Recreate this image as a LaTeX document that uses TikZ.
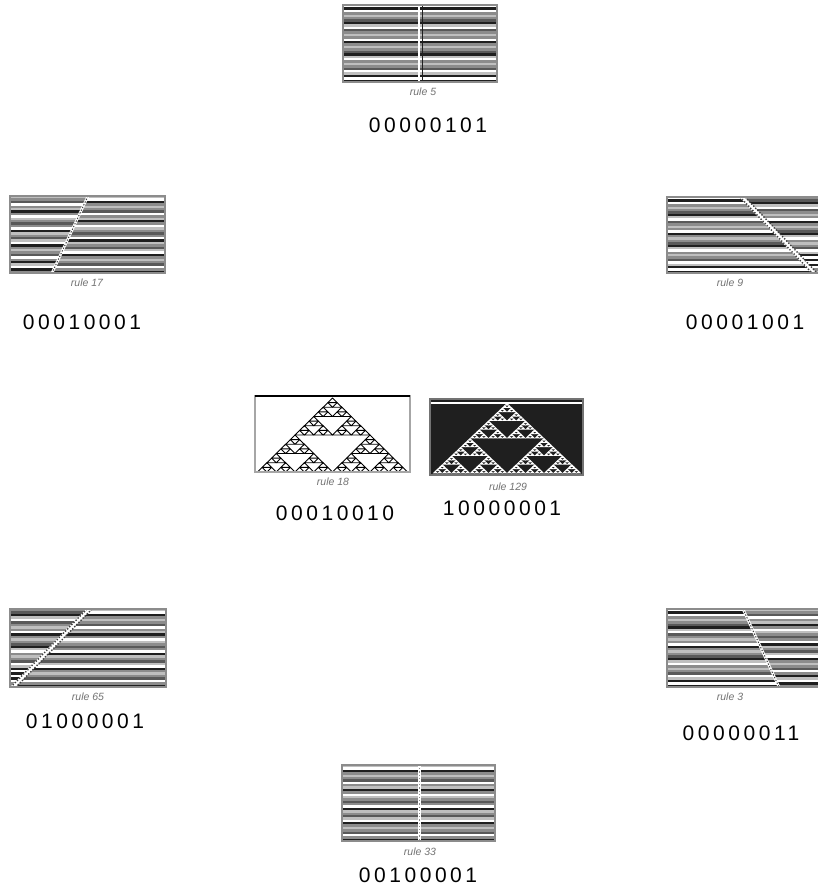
\documentclass[tikz,border=0pt]{standalone}
\usepackage{fontspec}
\setmainfont{Liberation Sans}
\newfontfamily\binfont[LetterSpace=17]{Liberation Sans}
\definecolor{cw}{gray}{1}
\definecolor{ck}{gray}{0.12}
\definecolor{cg}{gray}{0.55}
\definecolor{cl}{gray}{0.75}
\definecolor{cd}{gray}{0.35}
\definecolor{caframecol}{gray}{0.55}
\tikzset{
 rulelab/.style={font=\fontsize{10.5}{10.5}\selectfont\itshape, text=black!55, inner sep=0pt},
 binlab/.style={font=\binfont\fontsize{21}{21}\selectfont, inner sep=0pt},
 caframe/.style={draw=caframecol, line width=1.4pt},
 defect/.style={white, line width=2.6pt},
 defectzig/.style={white, line width=4pt},
 defectdots/.style={black!75, line width=1pt, dash pattern=on 1.3pt off 1.7pt},
}
\def\seqA{cw,ck,cw,cg,cl,cg,cd,ck,cl,cw,cd,cg,cl,cg,cw,ck,cg,cl,cg,cd,ck,cl,cw,cg,cl,cg,cd,cw,cl,ck,cw,ck}
\def\seqB{cg,cd,ck,cl,cw,cd,cg,cl,cg,cw,ck,cg,cl,cg,cd,ck,cl,cw,cg,cl,cg,cd,cw,cl,ck,cw,ck,cw,ck,cw,cg,cl}
\def\seqC{cl,cw,ck,cg,cl,cg,cd,cw,cg,cl,ck,cg,cw,cl,cg,cd,cg,cw,ck,cl,cg,cd,cl,cw,ck,cg,cl,cg,cd,cw,cg,ck}
\def\seqD{cl,cg,cd,cw,cg,cl,ck,cg,cw,cl,cg,cd,cg,cw,ck,cl,cg,cd,cl,cw,ck,cg,cl,cg,cd,cw,cg,ck,cl,cw,ck,cg}
% x0 y0 w h seq
\newcommand\castripes[5]{%
  \foreach \cc [count=\ii from 0] in #5 {%
    \fill[\cc] ({#1},{#2+\ii*#4/32}) rectangle ({#1+#3},{#2+(\ii+1)*#4/32+0.3});
  }}
\begin{document}
\begin{tikzpicture}[x=1pt,y=-1pt]
\fill[white] (0,0) rectangle (817,888);
\useasboundingbox (0,0) rectangle (817,888);

% ---------- rule 5 ----------
\castripes{343}{5}{154}{77}{\seqA}
\draw[white, line width=2.6pt] (419,5) -- (419,82);
\draw[ck, line width=1pt] (422,5) -- (422,82);
\draw[caframe] (343,5) rectangle (497,82);
\node[rulelab] (lab5) at (423,92) {rule 5};
\node[binlab] (bin5) at (428,125) {00000101};

% ---------- rule 17 ----------
\castripes{10}{196}{155}{77}{\seqC}
\begin{scope}
\clip (10,196) -- (88,196) -- (52,273) -- (10,273) -- cycle;
\castripes{10}{196}{155}{77}{\seqD}
\end{scope}
\draw[defect] (88,196) -- (52,273);
\draw[defectdots] (88,196) -- (52,273);
\draw[caframe] (10,196) rectangle (165,273);
\node[rulelab] (lab17) at (87,283) {rule 17};
\node[binlab] (bin17) at (82,322) {00010001};

% ---------- rule 9 ----------
\castripes{667}{197}{152}{76}{\seqA}
\begin{scope}
\clip (742,197) -- (819,197) -- (819,273) -- (814,273) -- cycle;
\castripes{667}{197}{152}{76}{\seqB}
\end{scope}
\draw[defectzig] (742,197) -- (814,273);
\draw[defectdots, line width=1.4pt] (740,197) -- (812,273);
\draw[defectdots, line width=1.4pt] (745,197) -- (817,273);
\draw[caframe] (819,197) -- (667,197) -- (667,273) -- (819,273);
\node[rulelab] (lab9) at (730,283) {rule 9};
\node[binlab] (bin9) at (745,322) {00001001};

% ---------- rule 18 ----------
\fill[white] (255,396) rectangle (410,472);
\foreach \ia/\ja in {0/0,-1/1,1/1}
 \foreach \ib/\jb in {0/0,-1/1,1/1}
  \foreach \ic/\jc in {0/0,-1/1,1/1}
   \foreach \id/\jd in {0/0,-1/1,1/1}{
     \pgfmathsetmacro\ax{332.5+75*(\ia/2+\ib/4+\ic/8+\id/16)}
     \pgfmathsetmacro\ay{398+74*(\ja/2+\jb/4+\jc/8+\jd/16)}
     \draw[black, line width=0.9pt, line join=round] (\ax,\ay) -- ++(-75/16,74/16) -- ++(75/8,0) -- cycle;
   }
\draw[draw=black!35, line width=1.4pt] (255,396) rectangle (410,472);
\draw[black, line width=2pt] (255,396) -- (410,396);
\node[rulelab] (lab18) at (333,482) {rule 18};
\node[binlab] (bin18) at (335,513) {00010010};

% ---------- rule 129 ----------
\fill[ck] (430,399) rectangle (583,475);
\fill[white] (430,401.5) rectangle (583,403.5);
\foreach \ia/\ja in {0/0,-1/1,1/1}
 \foreach \ib/\jb in {0/0,-1/1,1/1}
  \foreach \ic/\jc in {0/0,-1/1,1/1}
   \foreach \id/\jd in {0/0,-1/1,1/1}
    \foreach \ie/\je in {0/0,-1/1,1/1}{
     \pgfmathsetmacro\ax{507+74*(\ia/2+\ib/4+\ic/8+\id/16+\ie/32)}
     \pgfmathsetmacro\ay{403+70*(\ja/2+\jb/4+\jc/8+\jd/16+\je/32)}
     \fill[white] (\ax,\ay) -- ++(-74/32-0.4,70/32+0.4) -- ++(74/16+0.8,0) -- cycle;
   }
\draw[draw=black!55, line width=1.4pt] (430,399) rectangle (583,475);
\node[rulelab] (lab129) at (508,487) {rule 129};
\node[binlab] (bin129) at (502,508) {10000001};

% ---------- rule 65 ----------
\castripes{10}{609}{156}{78}{\seqB}
\begin{scope}
\clip (89,609) -- (166,609) -- (166,687) -- (13,687) -- cycle;
\castripes{10}{609}{156}{78}{\seqC}
\end{scope}
\draw[defectzig] (89,609) -- (13,687);
\draw[defectdots, line width=1.4pt] (87,609) -- (11,687);
\draw[defectdots, line width=1.4pt] (92,609) -- (16,687);
\draw[caframe] (10,609) rectangle (166,687);
\node[rulelab] (lab65) at (88,697) {rule 65};
\node[binlab] (bin65) at (85,721) {01000001};

% ---------- rule 3 ----------
\castripes{667}{609}{152}{78}{\seqD}
\begin{scope}
\clip (667,609) -- (743,609) -- (779,687) -- (667,687) -- cycle;
\castripes{667}{609}{152}{78}{\seqA}
\end{scope}
\draw[defect] (743,609) -- (779,687);
\draw[defectdots] (743,609) -- (779,687);
\draw[caframe] (819,609) -- (667,609) -- (667,687) -- (819,687);
\node[rulelab] (lab3) at (730,697) {rule 3};
\node[binlab] (bin3) at (741,733) {00000011};

% ---------- rule 33 ----------
\castripes{342}{765}{153}{76}{\seqC}
\draw[white, line width=3pt] (419,765) -- (419,841);
\draw[cg, line width=1pt, dash pattern=on 1.2pt off 2pt] (419,765) -- (419,841);
\draw[caframe] (342,765) rectangle (495,841);
\node[rulelab] (lab33) at (420,852) {rule 33};
\node[binlab] (bin33) at (418,875) {00100001};
\end{tikzpicture}
\end{document}
